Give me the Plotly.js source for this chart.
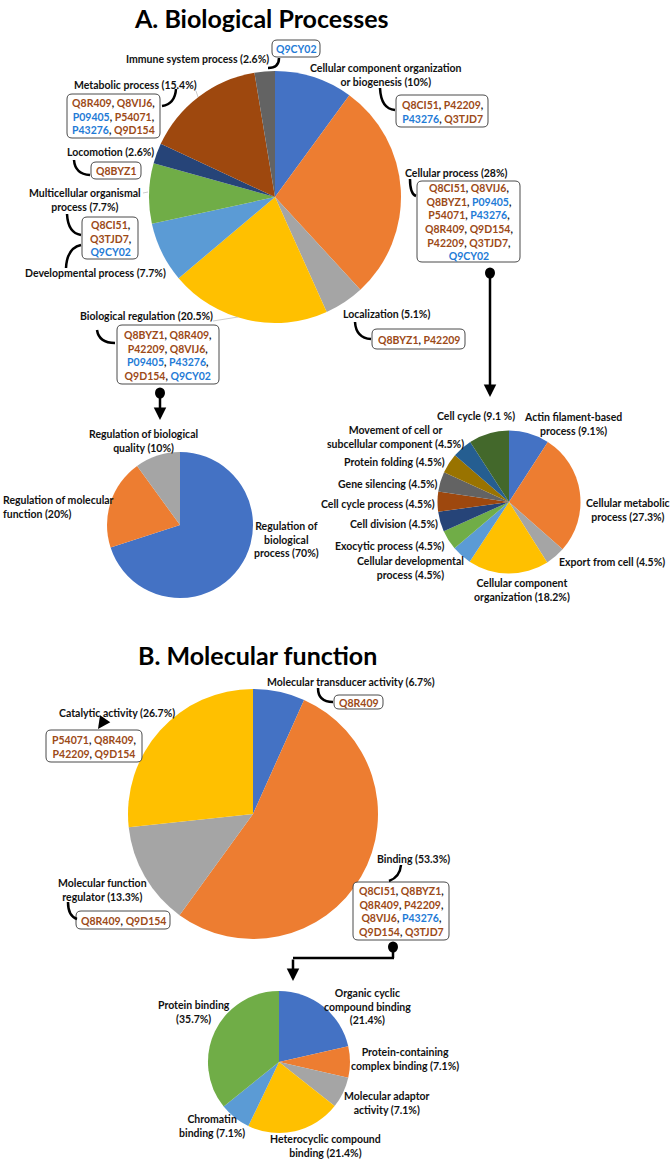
<!DOCTYPE html>
<html>
<head>
<meta charset="utf-8">
<script src="https://cdn.plot.ly/plotly-3.0.1.min.js"></script>
<style>html,body{margin:0;padding:0;background:#fff;}</style>
</head>
<body>
<div id="chart" style="width:670px;height:1160px;"></div>
<script>
// ---------------- DATA ----------------
const bpCategories = ["Cellular component organization or biogenesis","Cellular process","Localization","Biological regulation","Developmental process","Multicellular organismal process","Locomotion","Metabolic process","Immune system process"];
const bpValues = [10, 28, 5.1, 20.5, 7.7, 7.7, 2.6, 15.4, 2.6];
const bpLabels = ["Cellular component organization<br>or biogenesis (10%)","Cellular process (28%)","Localization (5.1%)","Biological regulation (20.5%)","Developmental process (7.7%)","Multicellular organismal<br>process (7.7%)","Locomotion (2.6%)","Metabolic process (15.4%)","Immune system process (2.6%)"];

const regCategories = ["Regulation of biological process","Regulation of molecular function","Regulation of biological quality"];
const regValues = [70, 20, 10];
const regLabels = ["Regulation of<br>biological<br>process (70%)","Regulation of molecular<br>function (20%)","Regulation of biological<br>quality (10%)"];

const cellCategories = ["Actin filament-based process","Cellular metabolic process","Export from cell","Cellular component organization","Cellular developmental process","Exocytic process","Cell division","Cell cycle process","Gene silencing","Protein folding","Movement of cell or subcellular component","Cell cycle"];
const cellValues = [9.1, 27.3, 4.5, 18.2, 4.5, 4.5, 4.5, 4.5, 4.5, 4.5, 4.5, 9.1];
const cellLabels = ["Actin filament-based<br>process (9.1%)","Cellular metabolic<br>process (27.3%)","Export from cell (4.5%)","Cellular component<br>organization (18.2%)","Cellular developmental<br>process (4.5%)","Exocytic process (4.5%)","Cell division (4.5%)","Cell cycle process (4.5%)","Gene silencing (4.5%)","Protein folding (4.5%)","Movement of cell or<br>subcellular component (4.5%)","Cell cycle (9.1 %)"];

const mfCategories = ["Molecular transducer activity","Binding","Molecular function regulator","Catalytic activity"];
const mfValues = [6.7, 53.3, 13.3, 26.7];
const mfLabels = ["Molecular transducer activity (6.7%)","Binding (53.3%)","Molecular function<br>regulator (13.3%)","Catalytic activity (26.7%)"];

const bindCategories = ["Organic cyclic compound binding","Protein-containing complex binding","Molecular adaptor activity","Heterocyclic compound binding","Chromatin binding","Protein binding"];
const bindValues = [21.4, 7.1, 7.1, 21.4, 7.1, 35.7];
const bindLabels = ["Organic cyclic<br>compound binding<br>(21.4%)","Protein-containing<br>complex binding (7.1%)","Molecular adaptor<br>activity (7.1%)","Heterocyclic compound<br>binding (21.4%)","Chromatin<br>binding (7.1%)","Protein binding<br>(35.7%)"];

const blueIds = ["P09405","P43276","Q9CY02"];
const idsImmune = [["Q9CY02"]];
const idsCCO = [["Q8CI51","P42209"],["P43276","Q3TJD7"]];
const idsMetabolic = [["Q8R409","Q8VIJ6"],["P09405","P54071"],["P43276","Q9D154"]];
const idsLocomotion = [["Q8BYZ1"]];
const idsMultiDev = [["Q8CI51"],["Q3TJD7"],["Q9CY02"]];
const idsCellProc = [["Q8CI51","Q8VIJ6"],["Q8BYZ1","P09405"],["P54071","P43276"],["Q8R409","Q9D154"],["P42209","Q3TJD7"],["Q9CY02"]];
const idsBioReg = [["Q8BYZ1","Q8R409"],["P42209","Q8VIJ6"],["P09405","P43276"],["Q9D154","Q9CY02"]];
const idsLocal = [["Q8BYZ1","P42209"]];
const idsTransducer = [["Q8R409"]];
const idsCatalytic = [["P54071","Q8R409"],["P42209","Q9D154"]];
const idsBinding = [["Q8CI51","Q8BYZ1"],["Q8R409","P42209"],["Q8VIJ6","P43276"],["Q9D154","Q3TJD7"]];
const idsMFReg = [["Q8R409","Q9D154"]];

// ---------------- STYLE / LAYOUT ----------------
const W = 670, H = 1160;
const palette = ['#4472C4','#ED7D31','#A5A5A5','#FFC000','#5B9BD5','#70AD47','#264478','#9E480E','#636363','#997300','#255E91','#43682B'];
const FONT = "Lato, 'Open Sans', sans-serif";
const BROWN = '#9C4A17', BLUE = '#1F7BD6', INK = '#111111';
const LSIZE = 10.5;

function pieTrace(cats, vals, cx, cy, r) {
  return {
    type: 'pie', labels: cats, values: vals, sort: false, direction: 'clockwise', rotation: 0,
    textinfo: 'none', hoverinfo: 'label+percent', showlegend: false,
    marker: {colors: palette.slice(0, vals.length), line: {width: 0}},
    domain: {x: [(cx - r) / W, (cx + r) / W], y: [1 - (cy + r) / H, 1 - (cy - r) / H]}
  };
}

const traces = [
  {type: 'scatter', x: [0, W], y: [0, H], mode: 'markers', marker: {opacity: 0}, hoverinfo: 'skip', showlegend: false},
  pieTrace(bpCategories, bpValues, 275, 197, 126),
  pieTrace(regCategories, regValues, 180, 525, 73),
  pieTrace(cellCategories, cellValues, 509, 502, 71.5),
  pieTrace(mfCategories, mfValues, 253, 814, 125),
  pieTrace(bindCategories, bindValues, 279, 1062, 71)
];

const annotations = [];
const shapes = [];

function label(text, x, y, anchor, size) {
  annotations.push({text: text, x: x, y: y, xref: 'x', yref: 'y', xanchor: anchor || 'center', yanchor: 'middle',
    showarrow: false, align: anchor === 'right' ? 'right' : (anchor === 'left' ? 'left' : 'center'),
    font: {family: FONT, size: size || LSIZE, color: INK, weight: 700}});
}

function idText(rows) {
  return rows.map(function (row, ri) {
    return row.map(function (id, ci) {
      const col = blueIds.indexOf(id) >= 0 ? BLUE : BROWN;
      const last = (ri === rows.length - 1 && ci === row.length - 1);
      const endOfRow = (ci === row.length - 1);
      return '<span style="color:' + col + '">' + id + '</span>' + (last ? '' : '<span style="color:#222">' + (endOfRow ? ',' : ', ') + '</span>');
    }).join('');
  }).join('<br>');
}

function rrPath(x0, y0, x1, y1, r) {
  return 'M' + (x0 + r) + ',' + y0 + ' L' + (x1 - r) + ',' + y0 + ' Q' + x1 + ',' + y0 + ' ' + x1 + ',' + (y0 + r) +
    ' L' + x1 + ',' + (y1 - r) + ' Q' + x1 + ',' + y1 + ' ' + (x1 - r) + ',' + y1 +
    ' L' + (x0 + r) + ',' + y1 + ' Q' + x0 + ',' + y1 + ' ' + x0 + ',' + (y1 - r) +
    ' L' + x0 + ',' + (y0 + r) + ' Q' + x0 + ',' + y0 + ' ' + (x0 + r) + ',' + y0 + ' Z';
}

function idBox(rows, x0, y0, x1, y1) {
  shapes.push({type: 'path', xref: 'x', yref: 'y', path: rrPath(x0, y0, x1, y1, 5),
    line: {color: '#4a4a4a', width: 1}, fillcolor: '#ffffff', layer: 'above'});
  annotations.push({text: idText(rows), x: (x0 + x1) / 2, y: (y0 + y1) / 2 + 0.5, xref: 'x', yref: 'y',
    xanchor: 'center', yanchor: 'middle', showarrow: false, align: 'center',
    font: {family: FONT, size: 10.5, color: BROWN, weight: 700}});
}

// curved arrow: path start, control, end; arrowhead at end
function curved(x0, y0, cx, cy, x1, y1) {
  shapes.push({type: 'path', xref: 'x', yref: 'y', path: 'M' + x0 + ',' + y0 + ' Q' + cx + ',' + cy + ' ' + x1 + ',' + y1,
    line: {color: '#000', width: 2.5}});
  const dx = x1 - cx, dy = y1 - cy, d = Math.sqrt(dx * dx + dy * dy) || 1;
  annotations.push({x: x1, y: y1, ax: x1 - dx / d * 4, ay: y1 - dy / d * 4, xref: 'x', yref: 'y', axref: 'x', ayref: 'y',
    text: '', showarrow: true, arrowhead: 2, arrowsize: 1, arrowwidth: 2.5, arrowcolor: '#000', standoff: 0});
}
function straight(x0, y0, x1, y1) {
  annotations.push({x: x1, y: y1, ax: x0, ay: y0, xref: 'x', yref: 'y', axref: 'x', ayref: 'y',
    text: '', showarrow: true, arrowhead: 2, arrowsize: 1, arrowwidth: 2.5, arrowcolor: '#000', standoff: 0});
}
function ball(x, y) {
  shapes.push({type: 'circle', xref: 'x', yref: 'y', x0: x - 5, x1: x + 5, y0: y - 5.5, y1: y + 5.5,
    fillcolor: '#000', line: {width: 0}});
}
function seg(x0, y0, x1, y1, color, width) {
  shapes.push({type: 'line', xref: 'x', yref: 'y', x0: x0, y0: y0, x1: x1, y1: y1, line: {color: color, width: width}});
}

// Titles
annotations.push({text: 'A. Biological Processes', x: 261, y: 18, xref: 'x', yref: 'y', showarrow: false,
  xanchor: 'center', yanchor: 'middle', font: {family: FONT, size: 25, color: '#000', weight: 700}});
annotations.push({text: 'B. Molecular function', x: 257, y: 655, xref: 'x', yref: 'y', showarrow: false,
  xanchor: 'center', yanchor: 'middle', font: {family: FONT, size: 25, color: '#000', weight: 700}});

// Pie A labels
label(bpLabels[8], 197, 59);
label(bpLabels[0], 386, 75);
label(bpLabels[7], 135, 85);
label(bpLabels[6], 110, 152);
label(bpLabels[5], 85, 200);
label(bpLabels[4], 95, 273);
label(bpLabels[1], 456, 173);
label(bpLabels[3], 146, 316);
label(bpLabels[2], 386, 314);

// Leader lines (thin grey)
seg(213, 321, 238, 317, '#bfbfbf', 0.8);
seg(143, 193, 148, 192, '#bfbfbf', 0.8);
seg(196, 91, 198, 97, '#bfbfbf', 0.8);

// Pie A ID boxes
idBox(idsImmune, 272, 40, 320, 57);
idBox(idsCCO, 396, 95, 488, 127);
idBox(idsMetabolic, 67, 94, 160, 138);
idBox(idsLocomotion, 91, 162, 141, 179);
idBox(idsMultiDev, 82, 217, 138, 259);
idBox(idsCellProc, 417, 181, 520, 262);
idBox(idsBioReg, 117, 325, 219, 384);
idBox(idsLocal, 372, 329, 465, 349);

// Pie A arrows
curved(268, 68, 279, 68, 279, 58);
curved(380, 88, 381, 109, 395, 110);
curved(176, 89, 175, 104, 162, 106);
curved(74, 160, 75, 174, 90, 175);
curved(67, 214, 68, 233, 81, 235);
curved(66, 268, 67, 248, 81, 245);
curved(410, 179, 410, 194, 416, 196);
curved(97, 330, 99, 343, 115, 343);
curved(355, 322, 356, 338, 371, 339);

// connectors with balls
ball(490, 273); straight(490, 273, 490, 397);
ball(160, 393); straight(160, 393, 160, 420);

// Regulation pie labels
label(regLabels[2], 143, 441);
label(regLabels[1], 1, 507, 'left');
label(regLabels[0], 286, 539);

// Cellular process pie labels
label(cellLabels[11], 517, 416, 'right');
label(cellLabels[0], 573, 424);
label(cellLabels[10], 395, 437);
label(cellLabels[9], 447, 462, 'right');
label(cellLabels[8], 440, 484, 'right');
label(cellLabels[7], 437, 504, 'right');
label(cellLabels[6], 440, 524, 'right');
label(cellLabels[5], 447, 546, 'right');
label(cellLabels[4], 410, 568);
label(cellLabels[1], 628, 510);
label(cellLabels[2], 557, 562, 'left');
label(cellLabels[3], 522, 590);

// Pie B labels, boxes, arrows
label(mfLabels[0], 351, 682);
idBox(idsTransducer, 334, 695, 383, 709);
curved(318, 688, 318, 702, 333, 702);
label(mfLabels[3], 117, 713);
idBox(idsCatalytic, 46, 730, 142, 762);
straight(105, 719, 98, 729);
label(mfLabels[1], 413, 859);
idBox(idsBinding, 353, 882, 449, 940);
curved(401, 865, 400, 877, 389, 881);
label(mfLabels[2], 102, 890);
idBox(idsMFReg, 76, 911, 170, 929);
curved(68, 902, 68, 916, 77, 919);

ball(393, 947);
seg(393, 947, 393, 958, '#000', 2.5);
seg(394, 958, 293, 958, '#000', 2.5);
straight(293, 958, 293, 981);

// Binding pie labels
label(bindLabels[0], 367, 1006);
label(bindLabels[5], 194, 1012);
label(bindLabels[1], 405, 1059);
label(bindLabels[2], 387, 1103);
label(bindLabels[4], 212, 1126);
label(bindLabels[3], 325, 1146);

const layout = {
  width: W, height: H, margin: {l: 0, r: 0, t: 0, b: 0, pad: 0},
  paper_bgcolor: '#fff', plot_bgcolor: 'rgba(0,0,0,0)', showlegend: false,
  xaxis: {range: [0, W], visible: false, fixedrange: true, domain: [0, 1]},
  yaxis: {range: [H, 0], visible: false, fixedrange: true, domain: [0, 1]},
  font: {family: FONT},
  shapes: shapes, annotations: annotations
};

Plotly.newPlot('chart', traces, layout, {displayModeBar: false, staticPlot: true});
</script>
</body>
</html>
